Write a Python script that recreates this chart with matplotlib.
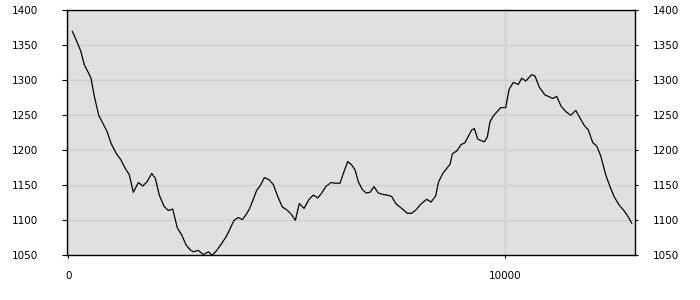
import matplotlib
matplotlib.use('Agg')
import matplotlib.pyplot as plt

# distance / elevation
dist = [92, 176, 284, 366, 458, 519, 595, 696, 787, 886, 977, 1092, 1206, 1304,
        1396, 1487, 1602, 1703, 1801, 1908, 1991, 2082, 2190, 2288, 2389, 2494,
        2595, 2693, 2785, 2860, 2975, 3089, 3204, 3295, 3396, 3510, 3625, 3716,
        3792, 3890, 3982, 4066, 4142, 4220, 4311, 4387, 4485, 4593, 4691, 4792,
        4897, 4998, 5096, 5195, 5286, 5394, 5508, 5606, 5707, 5799, 5890, 6011,
        6103, 6217, 6293, 6394, 6485, 6561, 6636, 6728, 6812, 6904, 6995, 7094,
        7195, 7300, 7400, 7492, 7590, 7666, 7757, 7858, 7957, 8064, 8201, 8300,
        8407, 8467, 8568, 8659, 8735, 8787, 8888, 8986, 9078, 9153, 9231, 9291,
        9368, 9444, 9519, 9588, 9650, 9725, 9826, 9895, 10009, 10085, 10183,
        10297, 10375, 10467, 10604, 10680, 10771, 10847, 10908, 10984, 11085,
        11176, 11275, 11389, 11497, 11611, 11709, 11801, 11899, 12000, 12092,
        12183, 12297, 12396, 12487, 12602, 12700, 12792, 12892]
elev = [1370, 1358, 1342, 1322, 1311, 1303, 1277, 1250, 1239, 1227, 1210, 1196,
        1186, 1174, 1165, 1140, 1154, 1149, 1155, 1167, 1160, 1136, 1120, 1114,
        1116, 1089, 1079, 1065, 1058, 1055, 1057, 1051, 1055, 1050, 1057, 1067,
        1078, 1090, 1100, 1104, 1101, 1108, 1116, 1128, 1143, 1149, 1161, 1158,
        1151, 1134, 1119, 1115, 1109, 1100, 1124, 1117, 1130, 1136, 1132, 1139,
        1148, 1154, 1153, 1153, 1167, 1184, 1179, 1172, 1155, 1144, 1139, 1140,
        1148, 1139, 1137, 1136, 1134, 1124, 1119, 1115, 1110, 1110, 1115, 1123,
        1130, 1126, 1135, 1154, 1167, 1174, 1180, 1195, 1199, 1208, 1211, 1220,
        1229, 1231, 1216, 1214, 1212, 1219, 1241, 1249, 1256, 1261, 1261, 1287,
        1297, 1294, 1303, 1299, 1308, 1306, 1291, 1284, 1279, 1277, 1274, 1277,
        1263, 1255, 1250, 1257, 1246, 1236, 1229, 1211, 1206, 1192, 1165, 1148,
        1134, 1122, 1115, 1107, 1096]
y_ticks = [1050, 1100, 1150, 1200, 1250, 1300, 1350, 1400]
x_ticks = [0, 10000]

fig = plt.figure(figsize=(7, 3), dpi=100)
ax = fig.add_axes([0.0953, 0.149, 0.8114, 0.8167])
ax.set_facecolor('#e0e0e0')

ax.plot(dist, elev, color='black', linewidth=0.9, zorder=3)

ax.set_xlim(-37, 12960)
ax.set_ylim(1050, 1400)
ax.set_xticks(x_ticks)
ax.set_yticks(y_ticks)
ax.grid(True, color='#cfcfcf', linewidth=1, zorder=0)
ax.set_axisbelow(True)

for s in ax.spines.values():
    s.set_color('black')
    s.set_linewidth(1)

# left labels: no tick marks
ax.tick_params(axis='y', left=False, right=False, labelleft=True,
               labelright=False, pad=17, labelsize=7.5, colors='black')
ax.tick_params(axis='x', length=2, pad=9, labelsize=7.5)

# right labels with short tick marks
ax2 = ax.twinx()
ax2.set_ylim(1050, 1400)
ax2.set_yticks(y_ticks)
ax2.tick_params(axis='y', length=2, pad=11, labelsize=7.5, colors='black')
for s in ax2.spines.values():
    s.set_visible(False)

fig.savefig('out.png', dpi=100, facecolor='white')
